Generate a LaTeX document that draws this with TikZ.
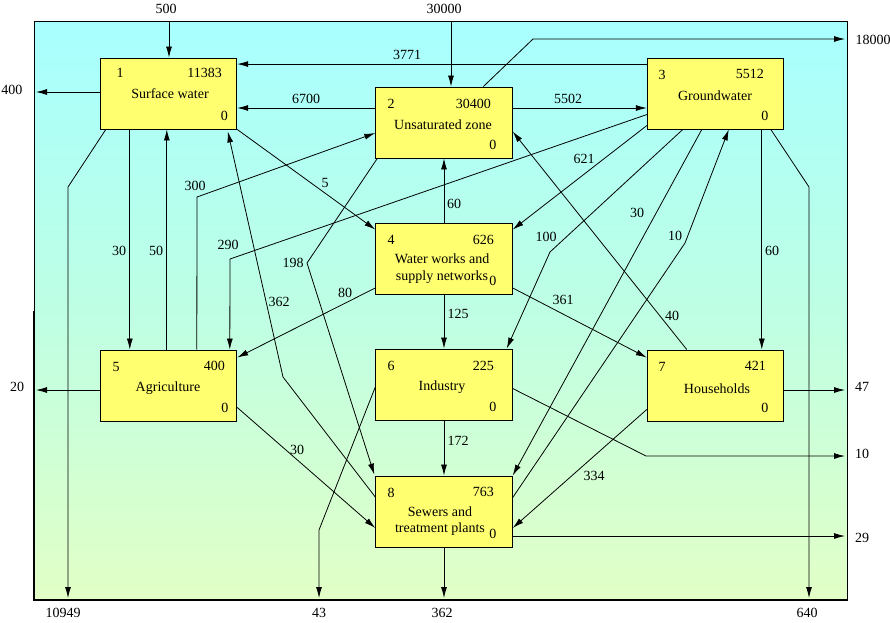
\documentclass[tikz,border=0pt]{standalone}
\usepackage{fontspec}
\setmainfont{Liberation Serif}
\usetikzlibrary{arrows.meta}
\definecolor{boxyellow}{RGB}{255,255,112}
\definecolor{bgtop}{RGB}{168,255,255}
\definecolor{bgmid}{RGB}{190,255,228}
\definecolor{bgbot}{RGB}{226,255,198}
\begin{document}
\begin{tikzpicture}[x=1pt,y=-1pt,
  box/.style={draw=black, line width=0.9pt, fill=boxyellow, minimum width=136.5pt, minimum height=71pt, inner sep=0pt},
  txt/.style={font=\fontsize{14}{16.5}\selectfont, inner sep=0pt},
  twoline/.style={txt, align=center},
  flow/.style={line width=0.8pt, -{Latex[length=11pt,width=6pt]}},
  plain/.style={line width=0.8pt}
]
\useasboundingbox (0,0) rectangle (890,622);
% background
\shade[top color=bgtop, bottom color=bgbot, middle color=bgmid] (34,21) rectangle (847,600);
\draw[line width=0.9pt] (34,21) rectangle (847,600);
\draw[line width=2pt] (34,311) -- (34,600) -- (847,600);

% free ends
\coordinate (t500) at (169,21);
\coordinate (t30000) at (451,21);
\coordinate (r18000) at (845,39);
\coordinate (l400) at (36,92);
\coordinate (l20) at (36,390);
\coordinate (r47) at (845,390);
\coordinate (r10) at (845,456);
\coordinate (r29) at (845,536);
\coordinate (b10949) at (68,598);
\coordinate (b43) at (319,598);
\coordinate (b362) at (444,598);
\coordinate (b640) at (809,598);

% boxes
\node[box] (n1) at (168.5,93.5) {};
\node[box] (n2) at (444,122.5) {};
\node[box] (n3) at (715.5,93.5) {};
\node[box] (n4) at (444,258.5) {};
\node[box] (n5) at (168.5,385.5) {};
\node[box] (n6) at (444,384.5) {};
\node[box] (n7) at (715.5,385.5) {};
\node[box] (n8) at (444,511.5) {};

% box texts
\node[txt] (id1) at (120,73) {1};
\node[txt,anchor=east] (v1) at (222,73) {11383};
\node[txt] (nm1) at (170,94) {Surface water};
\node[txt,anchor=east] (z1) at (228,116) {0};

\node[txt] (id2) at (391,104) {2};
\node[txt,anchor=east] (v2) at (491,104) {30400};
\node[txt] (nm2) at (443,125) {Unsaturated zone};
\node[txt,anchor=east] (z2) at (496.5,145) {0};

\node[txt] (id3) at (662,75) {3};
\node[txt,anchor=east] (v3) at (764,74) {5512};
\node[txt] (nm3) at (715,96) {Groundwater};
\node[txt,anchor=east] (z3) at (768.5,116) {0};

\node[txt] (id4) at (391,240) {4};
\node[txt,anchor=east] (v4) at (494,240) {626};
\node[twoline] (nm4) at (442,268.5) {Water works and\\supply networks};
\node[txt,anchor=east] (z4) at (496.5,281) {0};

\node[txt] (id5) at (116,367) {5};
\node[txt,anchor=east] (v5) at (225,366) {400};
\node[txt] (nm5) at (168,388) {Agriculture};
\node[txt,anchor=east] (z5) at (228.5,408) {0};

\node[txt] (id6) at (391,366) {6};
\node[txt,anchor=east] (v6) at (494,366) {225};
\node[txt] (nm6) at (442,387) {Industry};
\node[txt,anchor=east] (z6) at (496.5,407) {0};

\node[txt] (id7) at (662,367) {7};
\node[txt,anchor=east] (v7) at (766,366) {421};
\node[txt] (nm7) at (717,389) {Households};
\node[txt,anchor=east] (z7) at (768.5,408) {0};

\node[txt] (id8) at (391,493) {8};
\node[txt,anchor=east] (v8) at (494,492) {763};
\node[twoline] (nm8) at (440,521) {Sewers and\\treatment plants};
\node[txt,anchor=east] (z8) at (496.5,534) {0};

% connectors
\draw[flow] (t500) -- (t500 |- n1.north);
\draw[flow] (t30000) -- (t30000 |- n2.north);
\draw[flow] ([xshift=108pt]n2.north west) -- (533,39) -- (r18000);
\draw[flow] ([yshift=-6.5pt]n3.north west) -- ([yshift=-6.5pt]n1.north east);
\draw[flow] ([yshift=14.5pt]n2.west) -- ([yshift=-14.5pt]n1.east);
\draw[flow] ([yshift=14.5pt]n2.east) -- ([yshift=-14.5pt]n3.west);
\draw[flow] ([yshift=1.5pt]n1.west) -- (l400);
\draw[flow] ([xshift=6pt]n1.south west) -- (68,187) -- (b10949);
\draw[flow] ([xshift=30pt]n1.south west) -- ([xshift=30pt]n5.north west);
\draw[flow] ([xshift=67pt]n5.north west) -- ([xshift=67pt]n1.south west);
\draw[flow] ([xshift=97pt]n5.north west) -- (197,197) -- ([yshift=-10.5pt]n2.west);
\draw[flow] ([yshift=14.5pt]n8.west) -- (283,377) -- ([xshift=128pt,yshift=-2pt]n1.south west);
\draw[flow] (n1.south east) -- ([yshift=-7pt]n4.north west);
\draw[flow] (n4.north) -- (n2.south);
\draw[flow] ([xshift=2pt]n2.south west) -- (307,263) -- ([xshift=-1pt,yshift=1pt]n8.north west);
\draw[flow] ([yshift=-57pt]n3.north west) -- (230,259) -- ([xshift=130pt]n5.north west);
\draw[flow] ([yshift=-68pt]n3.north west) -- ([yshift=-7pt]n4.north east);
\draw[flow] ([xshift=36pt]n3.south west) -- (550,252) -- ([xshift=-6pt]n6.north east);
\draw[flow] ([xshift=55pt]n3.south west) -- (n8.north east);
\draw[flow] ([yshift=-22pt]n8.north east) -- (685,243) -- ([xshift=82pt]n3.south west);
\draw[flow] ([xshift=40pt]n7.north west) -- ([yshift=-45pt]n2.north east);
\draw[flow] ([xshift=115pt]n3.south west) -- ([xshift=115pt]n7.north west);
\draw[flow] ([xshift=124pt]n3.south west) -- (809,187) -- (b640);
\draw[flow] (n4.south) -- (n6.north);
\draw[flow] ([yshift=6.5pt]n4.south west) -- ([yshift=-8pt]n5.north east);
\draw[flow] ([yshift=6.5pt]n4.south east) -- ([yshift=-8pt]n7.north west);
\draw[flow] (n6.south) -- (n8.north);
\draw[flow] ([yshift=-2.5pt]n6.west) -- (319,530) -- (b43);
\draw[flow] ([yshift=-4pt]n6.east) -- (646,456) -- (r10);
\draw[flow] ([yshift=14pt]n5.south east) -- ([yshift=-16.5pt]n8.west);
\draw[flow] ([yshift=12pt]n7.south west) -- ([yshift=-16.5pt]n8.east);
\draw[flow] (n8.south) -- (b362);
\draw[flow] ([yshift=-24.5pt]n8.east) -- (r29);
\draw[flow] ([yshift=-4.5pt]n5.west) -- (l20);
\draw[flow] ([yshift=-4.5pt]n7.east) -- (r47);

% connector labels
\node[txt] (L500) at (166,9) {500};
\node[txt] (L30000) at (444,9) {30000};
\node[txt] (L18000) at (873,40) {18000};
\node[txt] (L400) at (12,90) {400};
\node[txt] (L20) at (17,387) {20};
\node[txt] (L47) at (862,387) {47};
\node[txt] (L10r) at (862,454) {10};
\node[txt] (L29) at (862,538) {29};
\node[txt] (L10949) at (63,613) {10949};
\node[txt] (L43) at (319,613) {43};
\node[txt] (L362b) at (442,613) {362};
\node[txt] (L640) at (807,613) {640};
\node[txt] (L3771) at (407,55) {3771};
\node[txt] (L6700) at (306,99) {6700};
\node[txt] (L5502) at (568,99) {5502};
\node[txt] (L5) at (325,183) {5};
\node[txt] (L300) at (195,186) {300};
\node[txt] (L30a) at (119,251) {30};
\node[txt] (L50) at (156,251) {50};
\node[txt] (L290) at (228,245) {290};
\node[txt] (L198) at (293,263) {198};
\node[txt] (L362) at (279,302) {362};
\node[txt] (L60a) at (454,204) {60};
\node[txt] (L621) at (584,159) {621};
\node[txt] (L100) at (546,237) {100};
\node[txt] (L30b) at (637,213) {30};
\node[txt] (L10) at (675,236) {10};
\node[txt] (L40) at (672,316) {40};
\node[txt] (L60b) at (772,251) {60};
\node[txt] (L80) at (345,293) {80};
\node[txt] (L361) at (563,300) {361};
\node[txt] (L125) at (458,314) {125};
\node[txt] (L172) at (458,441) {172};
\node[txt] (L30c) at (297,450) {30};
\node[txt] (L334) at (594,476) {334};
\end{tikzpicture}
\end{document}
